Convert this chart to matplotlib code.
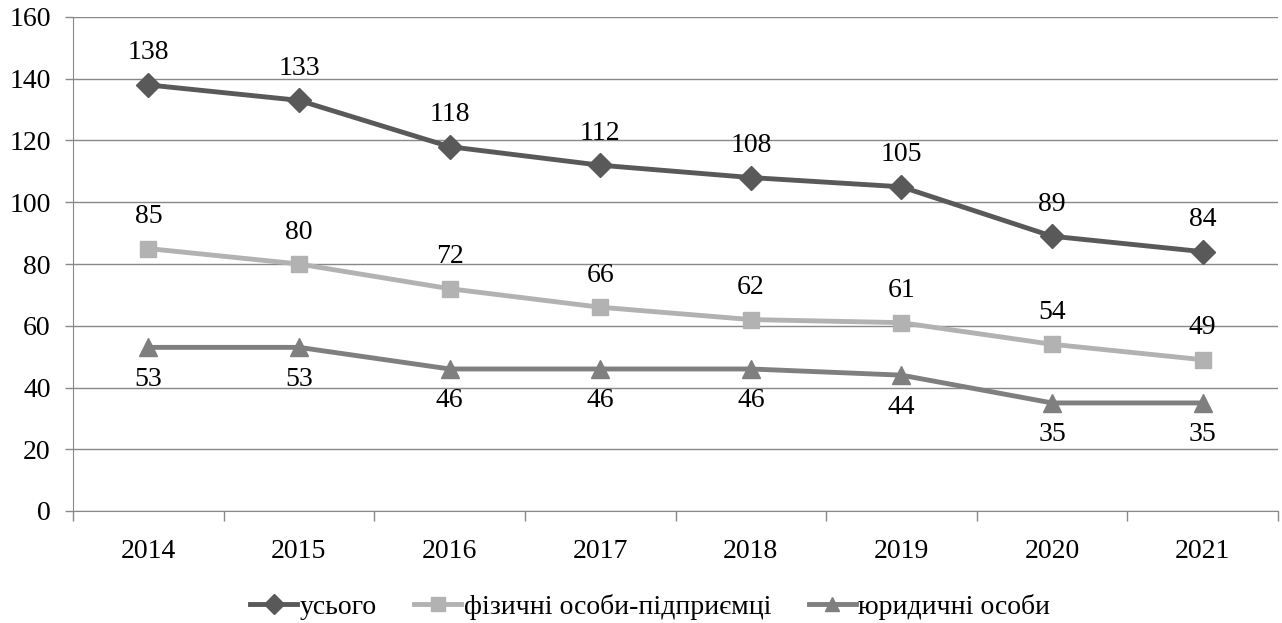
import numpy as np
import matplotlib
matplotlib.use("Agg")
import matplotlib.pyplot as plt

plt.rcParams['font.family'] = ['Liberation Serif', 'DejaVu Serif']

years = ['2014', '2015', '2016', '2017', '2018', '2019', '2020', '2021']
total = [138, 133, 118, 112, 108, 105, 89, 84]
individuals = [85, 80, 72, 66, 62, 61, 54, 49]
legal = [53, 53, 46, 46, 46, 44, 35, 35]

series = [
    ('усього', total, '#595959', 'D', 12.5, 1),
    ('фізичні особи-підприємці', individuals, '#b2b2b2', 's', 12, 1),
    ('юридичні особи', legal, '#7f7f7f', '^', 13, -1),
]

fig = plt.figure(figsize=(12.82, 6.23), dpi=100)
ax = fig.add_axes([73 / 1282, 1 - 511 / 623, (1278 - 73) / 1282, (511 - 17) / 623])

x = np.arange(len(years))
for name, vals, color, marker, ms, side in series:
    ax.plot(x, vals, color=color, lw=3.5, marker=marker, ms=ms, label=name,
            solid_joinstyle='round')
    for xi, v in zip(x, vals):
        ax.annotate(str(v), (xi, v), xytext=(0, 23 * side), textcoords='offset points',
                    ha='center', va='center', fontsize=20)

ax.set_xlim(-0.5, len(years) - 0.5)
ax.set_ylim(0, 160)
ax.set_yticks(range(0, 161, 20))
ax.set_xticks(x)
ax.set_xticklabels(years)
ax.set_xticks(np.arange(-0.5, len(years)), minor=True)
ax.tick_params(axis='x', which='major', length=0, pad=20, labelsize=20)
ax.tick_params(axis='x', which='minor', length=7, color='#888888', width=1)
ax.tick_params(axis='y', length=6, color='#888888', width=1, labelsize=20, pad=10)
ax.grid(axis='y', color='#888888', lw=1)
ax.set_axisbelow(True)
for s in ['top', 'right']:
    ax.spines[s].set_visible(False)
ax.spines['left'].set_color('#888888')
ax.spines['bottom'].set_color('#888888')

fig.legend(*ax.get_legend_handles_labels(), loc='center',
           bbox_to_anchor=(650 / 1282, 1 - 607 / 623), ncol=3,
           frameon=False, fontsize=20, handlelength=1.7, handletextpad=0.08,
           columnspacing=1.35, markerscale=0.8, borderaxespad=0, borderpad=0)

fig.savefig('out.png', dpi=100)
